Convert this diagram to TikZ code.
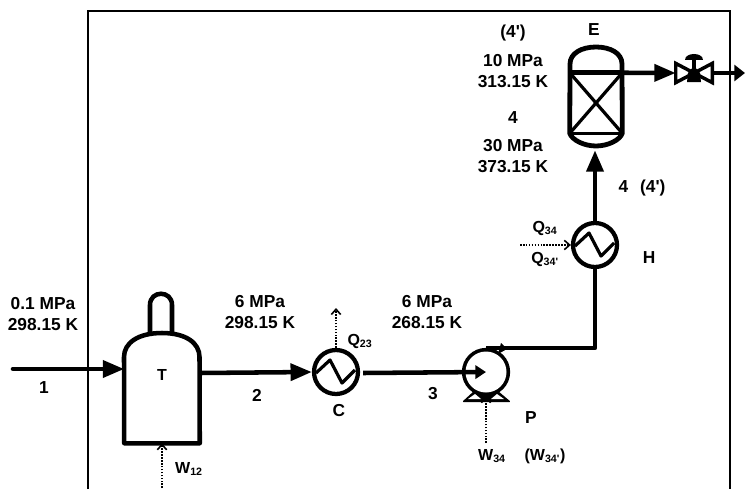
\documentclass[tikz,border=0pt]{standalone}
\usepackage{fontspec}
\setmainfont{Liberation Sans}
\usetikzlibrary{arrows.meta, positioning, calc}
\newcommand{\prm}{\textquotesingle}

\begin{document}
\begin{tikzpicture}[
    x=0.75pt, y=-0.75pt,
    every node/.style={font=\bfseries\fontsize{13}{15.8}\selectfont, align=center, inner sep=0pt},
    small/.style={font=\bfseries\fontsize{12}{14}\selectfont},
    tank/.style={rectangle, minimum width=56.25pt, minimum height=82.5pt},
    column/.style={rectangle, minimum width=39pt, minimum height=45pt},
    exchanger/.style={circle, draw, line width=3.2pt, fill=white, minimum size=33pt},
    pump/.style={circle, draw, line width=3.2pt, minimum size=33pt},
    valve/.style={rectangle, minimum width=27pt, minimum height=14pt},
    pipe/.style={line width=3.4pt},
    arrow/.style={pipe, -{Triangle[length=16pt,width=12.5pt]}},
    duty/.style={densely dotted, line width=1.2pt, -{Straight Barb[length=4pt,width=7pt]}}
]
\useasboundingbox (0,0) rectangle (745,489);

% frame
\draw[line width=0.8pt] (88,489) -- (88,11) -- (730,11) -- (730,489);

% equipment
\node[tank] (tank) at (162,388) {};
\node[exchanger] (cooler) at (336,372) {};
\node[pump] (pumpP) at (486,372) {};
\node[exchanger] (heater) at (595,245) {};
\node[column] (reactor) at (596,103) {};
\node[valve] (throttle) at (694,73) {};

\coordinate (feed) at (13,369);
\coordinate (product) at (745,73);
\coordinate (inlet) at ($(heater.center |- reactor.south)+(0,17)$);
\coordinate (w12) at (162,488);
\coordinate (q23) at (336,308);
\coordinate (w34) at (486,443);
\coordinate (q34) at (520,245);

% tank outline
\draw[pipe, line join=round] (124,357) .. controls (124,343) and (138,333) .. (162,333)
    .. controls (186,333) and (199.5,343) .. (199.5,357) -- (tank.south east) -- (tank.south west) -- cycle;
\draw[pipe] (150,335) -- (150,305) .. controls (150,290) and (172,290) .. (172,305) -- (172,335);

% column outline
\draw[line width=3.6pt, fill=white] (570,64) -- (reactor.south west)
    .. controls (572,140) and (584,146) .. (596,146) .. controls (608,146) and (620,140) .. (reactor.south east)
    -- (622,64) .. controls (622,53) and (610,47) .. (596,47)
    .. controls (582,47) and (570,53) .. (570,64) -- cycle;
\draw[pipe] (reactor.north west) -- (reactor.north east);
\draw[line width=2.2pt] (reactor.south west) -- (reactor.south east);
\draw[line width=2.4pt] (reactor.north west) -- (reactor.south east);
\draw[line width=2.4pt] (reactor.north east) -- (reactor.south west);

% coils
\draw[line width=2.4pt, line join=round] ($(cooler)+(-20,1)$) -- ($(cooler)+(-6,-12)$) -- ($(cooler)+(6,11)$) -- ($(cooler)+(19,-2)$);
\draw[line width=2.4pt, line join=round] ($(heater)+(-20,1)$) -- ($(heater)+(-6,-12)$) -- ($(heater)+(6,11)$) -- ($(heater)+(19,-2)$);

% pump feet
\fill[rounded corners=1pt] (462,402) -- (474,391) -- (498,391) -- (511,402) -- cycle;
\fill[white] (pumpP.center) circle[radius=20.5];
\fill[white] (468,399) -- (475,394) -- (481,399) -- cycle;
\fill[white] (491,399) -- (497,394) -- (504,399) -- cycle;

% valve
\draw[line width=2.6pt, line join=miter, fill=white] (throttle.north west) -- (throttle.south east) -- (throttle.north east) -- (throttle.south west) -- cycle;
\draw[line width=3pt] (throttle.center) -- ++(0,-16);
\fill (685,60) .. controls (685,52) and (703,52) .. (703,60) -- cycle;
\fill (688,73) -- (700,73) -- (701,82) -- (687,82) -- cycle;
\fill (694,66) -- (700,73) -- (688,73) -- cycle;

% streams
\draw[arrow] (feed) -- (tank.west |- feed);
\draw[line cap=round, pipe] (feed) -- (100,369);
\draw[arrow] (tank.east |- 0,373) -- (cooler.west);
\draw[pipe, -{Triangle[length=8pt,width=10pt]}] (cooler.east |- 0,373) ++(3,0) -- (pumpP.center);
\draw[pipe, line join=round] (pumpP.north) -- (heater.center |- pumpP.north) -- (heater.south);
\fill (501,343) -- (507,349) -- (498,354) -- cycle;
\draw[arrow] (heater.north) -- (inlet);
\draw[arrow] (reactor.north east) -- (throttle.west);
\draw[pipe, -{Triangle[length=8pt,width=12pt]}] (throttle.east) -- (product);

% duties
\draw[duty] (w12) -- (tank.south);
\draw[duty] (cooler.north) -- (q23);
\draw[duty] (w34) -- (pumpP.south);
\draw[duty] (q34) -- (heater.west);

% labels
\node[small] (lblT) at (162,375) {T};
\node (lblin) at (43,314) {0.1 MPa\\298.15 K};
\node (lbl1) at (44,388) {1};
\node (lbl2) at (257,395) {2};
\node (lblout) at (260,312) {6 MPa\\298.15 K};
\node (lblcold) at (427,312) {6 MPa\\268.15 K};
\node (lbl3) at (433,394) {3};
\node (lblC) at (339,411) {C};
\node[small] (lblQ23) at (360,341) {Q\textsubscript{23}};
\node (lblP) at (531,418) {P};
\node[small] (lblW34) at (492,456) {W\textsubscript{34}};
\node[small] (lblW34p) at (545,456) {(W\textsubscript{34\prm})};
\node[small] (lblW12) at (189,469) {W\textsubscript{12}};
\node (lblH) at (649,258) {H};
\node[small] (lblQ34) at (545,228) {Q\textsubscript{34}};
\node[small] (lblQ34p) at (545,259) {Q\textsubscript{34\prm}};
\node (lbl4b) at (642,188) {4\hspace{9pt}(4\prm)};
\node (lblE) at (594,30) {E};
\node (lbl4p) at (513,33) {(4\prm)};
\node (lblhi) at (513,71) {10 MPa\\313.15 K};
\node (lbl4) at (513,118) {4};
\node (lbllo) at (513,156) {30 MPa\\373.15 K};

\end{tikzpicture}
\end{document}
